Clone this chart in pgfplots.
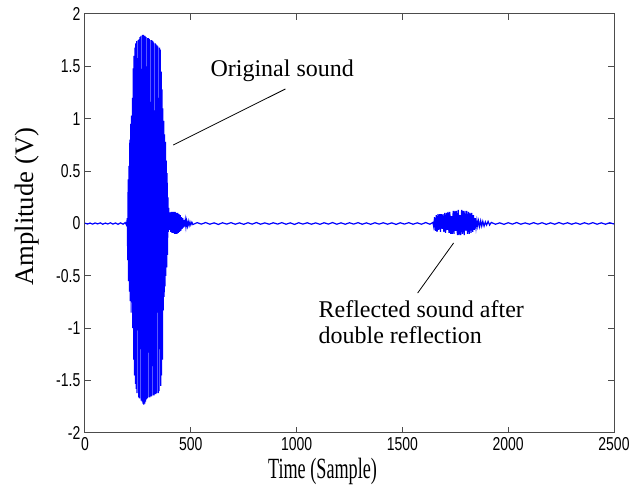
\documentclass[border=0pt]{standalone}
\usepackage{fontspec}
\setmainfont{Liberation Serif}
\newfontfamily\ticksf[FakeStretch=0.75]{Liberation Sans}
\newfontfamily\xlabf[FakeStretch=0.62]{Liberation Serif}
\usepackage{pgfplots}
\pgfplotsset{compat=1.18}

\begin{document}
\begin{tikzpicture}
\begin{axis}[name=ax,
  scale only axis, width=396.75pt, height=314.25pt,
  xmin=0, xmax=2500, ymin=-2, ymax=2,
  xtick={0,500,1000,1500,2000,2500},
  xticklabels={0,500,1000,1500,2000,2500},
  ytick={-2,-1.5,-1,-0.5,0,0.5,1,1.5,2},
  yticklabels={-2,-1.5,-1,-0.5,0,0.5,1,1.5,2},
  tick align=inside, major tick length=4.5pt,
  tick style={black!70, line width=0.75pt},
  axis line style={draw=black!70, line width=0.75pt},
  ticklabel style={font=\ticksf\fontsize{14}{16}\selectfont},
  xlabel={\xlabf Time (Sample)},
  xlabel style={font=\fontsize{22}{24}\selectfont, at={(axis description cs:0.449,-0.091)}, anchor=center},
  ylabel={Amplitude (V)},
  ylabel style={font=\fontsize{20}{22}\selectfont, at={(axis description cs:-0.110,0.54)}, anchor=center},
]
% recorded signal
\addplot[blue, line width=0.9pt] coordinates {
(0,0.003)(12,-0.005)(24,0.004)(36,-0.006)(48,0.005)(60,-0.004)(72,0.006)(84,-0.007)
(96,0.004)(108,-0.005)(120,0.007)(132,-0.006)(144,0.005)(156,-0.008)(168,0.006)
(180,-0.007)(190,0.009)(196,-0.015)
(200,0.05)(202,-0.35)(204,0.42)(206,-0.55)(208,0.55)(210,-0.65)(212,0.80)(214,-0.74)
(216,0.95)(218,-0.85)(220,1.03)(222,-0.70)(224,1.20)(226,-1.00)(228,1.48)(230,-1.30)
(232,1.60)(234,-1.45)(236,1.68)(238,-1.53)(240,1.72)(242,-1.58)(244,1.74)(246,-1.62)
(248,1.00)(250,-0.96)(252,1.75)(254,-1.66)(256,1.76)(258,-1.67)(260,1.78)(262,-1.20)
(264,1.79)(266,-1.69)(268,1.30)(270,-1.70)(272,1.80)(274,-1.72)(276,1.80)(278,-1.73)
(280,1.79)(282,-1.72)(284,1.79)(286,-1.70)(288,1.78)(290,-1.68)(292,1.00)(294,-1.67)
(296,1.77)(298,-0.80)(300,1.77)(302,-1.66)(304,1.76)(306,-1.66)(308,0.80)(310,-1.65)
(312,1.75)(314,-1.65)(316,1.75)(318,-0.90)(320,1.74)(322,-1.64)(324,1.73)(326,-1.64)
(328,1.08)(330,-1.63)(332,1.72)(334,-1.63)(336,1.71)(338,-1.62)(340,1.70)(342,-0.85)
(344,1.69)(346,-1.62)(348,1.20)(350,-1.60)(352,1.68)(354,-1.20)(356,1.66)(358,-1.55)
(360,1.45)(362,-1.45)(364,1.28)(366,-1.30)(368,1.10)(370,-0.83)(372,0.98)(374,-0.70)
(376,0.85)(378,-0.60)(380,0.78)(382,-0.50)(384,0.60)(386,-0.42)(388,0.48)(390,-0.30)
(392,0.25)(394,-0.08)(396,0.15)(398,-0.06)(400,0.10)
(402,0.10)(405,-0.08)(408,0.11)(411,-0.09)(414,0.11)(417,-0.09)(420,0.11)(423,-0.10)
(426,0.11)(429,-0.10)(432,0.10)(435,-0.10)(438,0.10)(441,-0.09)(444,0.09)(447,-0.08)
(450,0.08)(453,-0.07)(456,0.06)(459,-0.05)(462,0.05)(465,-0.04)(468,0.035)(471,-0.03)
(474,0.03)(477,-0.03)(480,0.025)(484,-0.025)(488,0.02)(492,-0.02)(496,0.015)(500,-0.014)
(505,0.012)(510,-0.01)
(530,0.008)(550,-0.006)(570,0.009)(590,-0.007)(610,0.006)(630,-0.009)(650,0.007)(670,-0.006)
(690,0.008)(710,-0.007)(730,0.006)(750,-0.008)(770,0.007)(790,-0.006)(810,0.009)(830,-0.007)
(850,0.006)(870,-0.007)(890,0.007)(910,-0.006)(930,0.008)(950,-0.007)(970,0.006)(990,-0.009)
(1010,0.007)(1030,-0.006)(1050,0.007)(1070,-0.007)(1090,0.006)(1110,-0.008)(1130,0.007)
(1150,-0.006)(1170,0.009)(1190,-0.007)(1210,0.006)(1230,-0.007)(1250,0.007)(1270,-0.006)
(1290,0.008)(1310,-0.007)(1330,0.006)(1350,-0.008)(1370,0.007)(1390,-0.006)(1410,0.007)
(1430,-0.007)(1450,0.006)(1470,-0.009)(1490,0.007)(1510,-0.006)(1530,0.008)(1550,-0.007)
(1570,0.006)(1590,-0.007)(1610,0.009)(1630,-0.007)
(1644,0.01)(1648,-0.03)(1652,0.06)(1656,-0.07)(1660,0.08)(1664,-0.08)(1668,0.09)(1672,-0.06)
(1676,0.09)(1680,-0.08)(1684,0.09)(1688,-0.05)(1692,0.09)(1696,-0.08)(1700,0.10)(1704,-0.09)
(1708,0.10)(1712,-0.06)(1716,0.11)(1720,-0.09)(1724,0.11)(1728,-0.10)(1732,0.07)(1736,-0.10)
(1740,0.12)(1744,-0.10)(1748,0.12)(1752,-0.07)(1756,0.12)(1760,-0.11)(1764,0.13)(1768,-0.11)
(1772,0.08)(1776,-0.11)(1780,0.13)(1784,-0.10)(1788,0.12)(1792,-0.11)(1796,0.12)(1800,-0.07)
(1804,0.12)(1808,-0.10)(1812,0.11)(1816,-0.10)(1820,0.10)(1824,-0.09)(1828,0.10)(1832,-0.08)
(1836,0.08)(1840,-0.06)(1844,0.05)(1848,-0.04)(1852,0.03)(1856,-0.025)(1860,0.025)(1865,-0.03)
(1870,0.025)(1875,-0.025)(1880,0.02)(1886,-0.025)(1892,0.015)(1898,-0.015)(1905,0.02)
(1912,-0.015)(1920,0.01)
(1940,-0.007)(1960,0.006)(1980,-0.008)(2000,0.007)(2020,-0.006)(2040,0.009)(2060,-0.007)
(2080,0.006)(2100,-0.007)(2120,0.008)(2140,-0.006)(2160,0.007)(2180,-0.008)(2200,0.006)
(2220,-0.007)(2240,0.009)(2260,-0.006)(2280,0.007)(2300,-0.007)(2320,0.006)(2340,-0.008)
(2360,0.007)(2380,-0.006)(2400,0.008)(2420,-0.007)(2440,0.006)(2460,-0.007)(2480,0.007)
(2500,-0.005)
};
% annotations
\draw[black, line width=0.6pt] (axis cs:417,0.749) -- (axis cs:947,1.284);
\draw[black, line width=0.6pt] (axis cs:1742,-0.186) -- (axis cs:1572,-0.664);
\node[anchor=base west, inner sep=0, font=\fontsize{18}{20}\selectfont] at (axis cs:592,1.399) {Original sound};
\node[anchor=base west, inner sep=0, font=\fontsize{18}{20}\selectfont] at (axis cs:1103,-0.902) {Reflected sound after};
\node[anchor=base west, inner sep=0, font=\fontsize{18}{20}\selectfont] at (axis cs:1103,-1.150) {double reflection};
\end{axis}
\pgfresetboundingbox
\path ([xshift=-63.75pt,yshift=-45pt]ax.south west) rectangle ([xshift=15.75pt,yshift=10.5pt]ax.north east);
\end{tikzpicture}
\end{document}
